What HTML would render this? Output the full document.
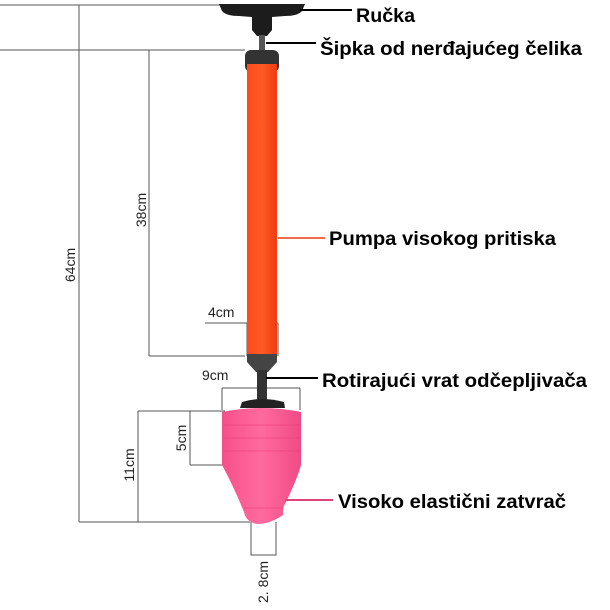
<!DOCTYPE html>
<html><head><meta charset="utf-8"><style>
html,body{margin:0;padding:0;background:#fff;width:610px;height:610px;overflow:hidden}
svg{display:block}
.d{stroke:#555;stroke-width:1;fill:none}
.t{font-family:"Liberation Sans",sans-serif;font-size:14px;fill:#222}
.l{font-family:"Liberation Sans",sans-serif;font-weight:bold;font-size:19px;fill:#000}
</style></head><body>
<svg width="610" height="610" viewBox="0 0 610 610">
<defs>
<linearGradient id="og" x1="0" x2="1"><stop offset="0" stop-color="#ff4a1a"/><stop offset="0.5" stop-color="#ff5a25"/><stop offset="1" stop-color="#f03c10"/></linearGradient>
<linearGradient id="pg" x1="0" x2="1"><stop offset="0" stop-color="#f6508a"/><stop offset="0.5" stop-color="#ff6a9e"/><stop offset="1" stop-color="#f04a84"/></linearGradient>
</defs>
<path class="d" d="M0 5H220 M79 5V522 M79 522H250"/>
<path class="d" d="M0 50H245 M149 50V356 M149 356H245"/>
<path class="d" d="M205 323H278 M247 323V356 M278 323V356"/>
<path class="d" d="M222 388H300 M222 388V410 M300 388V410"/>
<path class="d" d="M138 411H225 M138 411V522 M138 522H250"/>
<path class="d" d="M190 411V465 M190 465H225"/>
<path class="d" d="M251 522V555H276V522"/>
<text class="t" transform="translate(75,265) rotate(-90)" text-anchor="middle">64cm</text>
<text class="t" transform="translate(146,210) rotate(-90)" text-anchor="middle">38cm</text>
<text class="t" x="208" y="317">4cm</text>
<text class="t" x="202" y="380">9cm</text>
<text class="t" transform="translate(134,465) rotate(-90)" text-anchor="middle">11cm</text>
<text class="t" transform="translate(186,438) rotate(-90)" text-anchor="middle">5cm</text>
<text class="t" transform="translate(268,582) rotate(-90)" text-anchor="middle">2. 8cm</text>
<!-- handle -->
<path d="M219 4H305L302 11Q298 16 285 16L272 17V30L267 36H257L252 30V17L239 16Q226 16 222 11Z" fill="#1c1c1c"/>
<rect x="259" y="35" width="6" height="16" fill="#555"/>
<rect x="245" y="50" width="34" height="22" rx="6" fill="#333"/>
<rect x="247" y="64" width="30" height="292" fill="url(#og)"/>
<path d="M247 354H277V362L268 372H256L247 362Z" fill="#444"/>
<rect x="257" y="370" width="10" height="32" fill="#333"/>
<path d="M242 402Q262 396 284 402L285 408H240Z" fill="#222"/>
<path d="M222 412Q262 404 301 412V465Q297 480 283 508V515Q270 524 257 524Q246 522 244 512Q233 485 222 465Z" fill="url(#pg)"/>
<path d="M224 425H300M224 438H300M224 451H300M244 508H284" stroke="#e8407a" stroke-width="1" opacity="0.6"/>
<path d="M300 10H352" stroke="#000" stroke-width="2"/>
<path d="M266 43H316" stroke="#000" stroke-width="2"/>
<path d="M278 238H325" stroke="#f26a4a" stroke-width="2"/>
<path d="M266 378H318" stroke="#000" stroke-width="2"/>
<path d="M285 500H333" stroke="#e0457a" stroke-width="2"/>
<text class="l" x="356" y="22" textLength="59" lengthAdjust="spacingAndGlyphs">Ručka</text>
<text class="l" x="320" y="55" textLength="262" lengthAdjust="spacingAndGlyphs">Šipka od nerđajućeg čelika</text>
<text class="l" x="329" y="245" textLength="227" lengthAdjust="spacingAndGlyphs">Pumpa visokog pritiska</text>
<text class="l" x="322" y="387" textLength="265" lengthAdjust="spacingAndGlyphs">Rotirajući vrat odčepljivača</text>
<text class="l" x="338" y="508" textLength="228" lengthAdjust="spacingAndGlyphs">Visoko elastični zatvrač</text>
</svg>
</body></html>
